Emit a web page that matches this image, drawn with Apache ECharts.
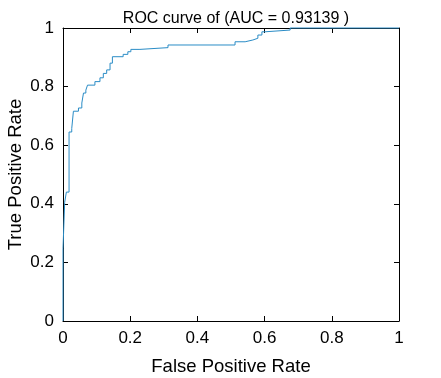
<!DOCTYPE html>
<html>
<head>
<meta charset="utf-8">
<script src="https://cdn.jsdelivr.net/npm/echarts@6/dist/echarts.min.js"></script>
<style>
  html, body { margin: 0; padding: 0; background: #fff; }
  #roc { width: 441px; height: 378px; }
</style>
</head>
<body>
<div id="roc"></div>
<script>
// ROC staircase vertices
const fpr = [0, 0, 0.005, 0.005, 0.01, 0.01, 0.018, 0.018, 0.026, 0.026,
  0.031, 0.031, 0.046, 0.046, 0.056, 0.056, 0.061, 0.061,
  0.068, 0.068, 0.073, 0.073, 0.095, 0.095, 0.11, 0.11, 0.12, 0.12,
  0.13, 0.13, 0.14, 0.14, 0.147, 0.147, 0.179, 0.179, 0.193, 0.193,
  0.202, 0.202, 0.229, 0.229, 0.3125, 0.3125, 0.512, 0.512, 0.542, 0.542,
  0.565, 0.565, 0.58, 0.58, 0.592, 0.592, 0.601, 0.601, 0.676, 0.676, 1];
const tpr = [0, 0.248, 0.248, 0.405, 0.405, 0.44, 0.44, 0.645, 0.645, 0.657,
  0.657, 0.716, 0.716, 0.727, 0.727, 0.744, 0.744, 0.778,
  0.778, 0.788, 0.788, 0.805, 0.805, 0.817, 0.817, 0.83, 0.83, 0.845,
  0.845, 0.857, 0.857, 0.88, 0.88, 0.902, 0.902, 0.91, 0.91, 0.919,
  0.919, 0.927, 0.927, 0.933, 0.933, 0.942, 0.942, 0.953, 0.953, 0.959,
  0.959, 0.965, 0.965, 0.976, 0.976, 0.987, 0.987, 0.993, 0.993, 1, 1];
const titleText = "ROC curve of (AUC = 0.93139 )";

const chart = echarts.init(document.getElementById("roc"));

const font = "Liberation Sans, Arial, sans-serif";
const tickAxis = (pos, show) => ({
  type: "value",
  position: pos,
  min: 0,
  max: 1,
  interval: 0.2,
  axisLine: { show: true, onZero: false, lineStyle: { color: "#000", width: 1 } },
  axisTick: { show: true, inside: true, length: 5, lineStyle: { color: "#000" } },
  axisLabel: { show: show, color: "#000", fontSize: 17, fontFamily: font, margin: 9 },
  splitLine: { show: false }
});

const option = {
  animation: false,
  backgroundColor: "#fff",
  title: {
    text: titleText,
    left: 231,
    top: 6,
    textAlign: "center",
    textStyle: { fontSize: 16, fontWeight: "normal", color: "#000", fontFamily: font }
  },
  grid: { left: 63, right: 42, top: 28, bottom: 57, containLabel: false, outerBoundsMode: "none" },
  xAxis: [
    Object.assign(tickAxis("bottom", true), {
      name: "False Positive Rate",
      nameLocation: "middle",
      nameGap: 36,
      nameMoveOverlap: false,
      nameTextStyle: { fontSize: 18.5, color: "#000", fontFamily: font }
    }),
    tickAxis("top", false)
  ],
  yAxis: [
    Object.assign(tickAxis("left", true), {
      name: "True Positive Rate",
      nameLocation: "middle",
      nameGap: 38,
      nameMoveOverlap: false,
      nameTextStyle: { fontSize: 18.5, color: "#000", fontFamily: font }
    }),
    tickAxis("right", false)
  ],
  series: [{
    type: "line",
    data: fpr.map((x, i) => [x, tpr[i]]),
    showSymbol: false,
    lineStyle: { color: "#2a8cc6", width: 1 },
    clip: false
  }]
};

chart.setOption(option);
</script>
</body>
</html>
